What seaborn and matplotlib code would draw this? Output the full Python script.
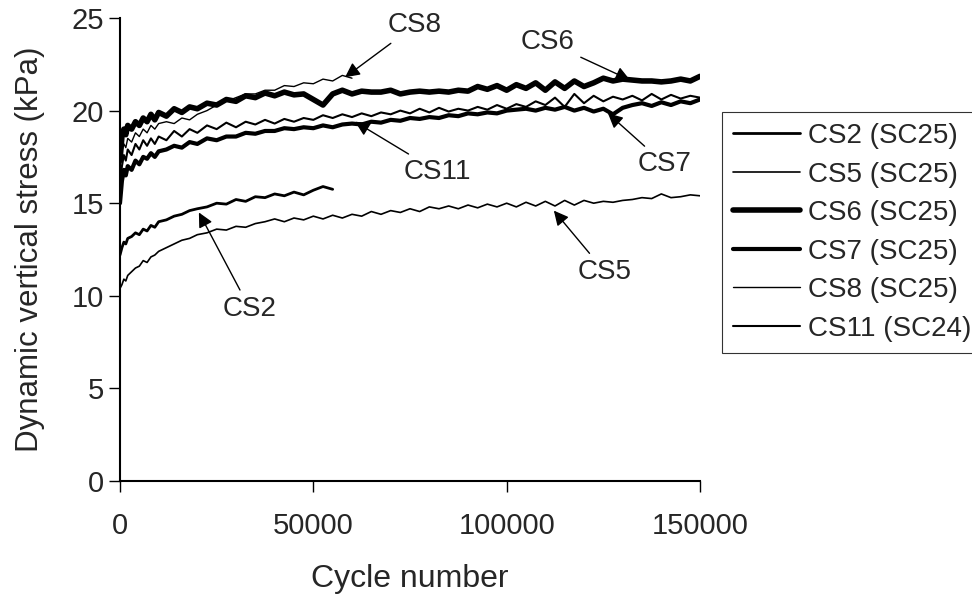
import matplotlib
matplotlib.use('Agg')
import matplotlib.pyplot as plt
import seaborn as sns

cycles = [0, 500, 1000, 1500, 2000, 3000, 4000, 5000, 6000, 7000, 8000, 9000, 10000,
          12000, 14000, 16000, 18000, 20000,
          22500, 25000, 27500, 30000, 32500, 35000, 37500, 40000, 42500, 45000, 47500,
          50000, 52500, 55000, 57500, 60000, 62500, 65000, 67500, 70000, 72500, 75000,
          77500, 80000, 82500, 85000, 87500, 90000, 92500, 95000, 97500, 100000,
          102500, 105000, 107500, 110000, 112500, 115000, 117500, 120000, 122500,
          125000, 127500, 130000, 132500, 135000, 137500, 140000, 142500, 145000,
          147500, 150000]

cs2 = [12.2, 12.6, 12.9, 12.8, 13.1, 13.2, 13.4, 13.3, 13.6, 13.5, 13.8, 13.7, 14.0,
       14.1, 14.3, 14.4, 14.6, 14.7,
       14.8, 15.0, 14.95, 15.2, 15.1, 15.35, 15.3, 15.5, 15.4, 15.6, 15.45, 15.7, 15.9, 15.75]

cs5 = [10.4, 10.6, 10.9, 10.8, 11.1, 11.3, 11.5, 11.6, 11.9, 11.8, 12.1, 12.2, 12.4,
       12.6, 12.8, 13.0, 13.1, 13.3,
       13.4, 13.6, 13.55, 13.75, 13.7, 13.9, 14.0, 14.15, 14.0, 14.2, 14.1, 14.3, 14.15,
       14.35, 14.2, 14.4, 14.3, 14.55, 14.4, 14.6, 14.5, 14.7, 14.55, 14.8, 14.7, 14.85,
       14.7, 14.9, 14.75, 14.95, 14.8, 15.0, 14.8, 15.05, 14.85, 15.1, 14.85, 15.15, 14.9,
       15.15, 15.0, 15.1, 15.05, 15.15, 15.2, 15.3, 15.25, 15.5, 15.3, 15.35, 15.45, 15.4]

cs6 = [17.3, 18.6, 19.0, 18.7, 19.2, 19.0, 19.4, 19.2, 19.6, 19.4, 19.8, 19.5, 19.9,
       19.7, 20.1, 19.9, 20.2, 20.1,
       20.4, 20.3, 20.6, 20.5, 20.8, 20.7, 20.95, 20.8, 21.0, 20.85, 20.9, 20.6, 20.3,
       20.9, 21.1, 20.9, 21.05, 21.0, 21.0, 21.1, 20.9, 21.0, 21.05, 21.0, 21.05, 21.0,
       21.1, 21.05, 21.3, 21.15, 21.35, 21.1, 21.4, 21.2, 21.5, 21.1, 21.55, 21.2, 21.6,
       21.3, 21.5, 21.75, 21.6, 21.7, 21.65, 21.6, 21.6, 21.55, 21.6, 21.7, 21.6, 21.85]

cs7 = [15.0, 16.2, 16.8, 16.5, 17.0, 16.8, 17.3, 17.1, 17.5, 17.4, 17.7, 17.5, 17.8,
       17.9, 18.1, 18.0, 18.3, 18.2,
       18.5, 18.4, 18.6, 18.6, 18.8, 18.75, 18.9, 18.9, 19.05, 19.0, 19.1, 19.05, 19.2,
       19.1, 19.25, 19.3, 19.25, 19.4, 19.35, 19.5, 19.45, 19.6, 19.55, 19.65, 19.6, 19.75,
       19.7, 19.85, 19.8, 19.9, 19.85, 20.0, 20.05, 20.1, 20.0, 20.15, 20.05, 20.2, 20.0,
       20.15, 19.95, 20.1, 19.8, 20.15, 20.3, 20.4, 20.25, 20.45, 20.3, 20.5, 20.4, 20.6]

cs8 = [16.8, 17.8, 18.2, 18.0, 18.5, 18.3, 18.8, 18.6, 19.0, 18.8, 19.2, 19.0, 19.3,
       19.4, 19.3, 19.6, 19.5, 19.8,
       20.0, 20.3, 20.5, 20.7, 20.9, 20.9, 21.1, 21.1, 21.35, 21.3, 21.5, 21.45, 21.7,
       21.6, 21.9, 21.75]

cs11 = [16.0, 17.0, 17.6, 17.3, 17.9, 17.6, 18.2, 17.9, 18.4, 18.1, 18.5, 18.2, 18.6,
        18.4, 18.9, 18.6, 19.0, 18.8,
        19.2, 19.0, 19.35, 19.1, 19.4, 19.25, 19.5, 19.3, 19.55, 19.4, 19.6, 19.5, 19.75,
        19.6, 19.8, 19.65, 19.85, 19.7, 19.9, 19.8, 20.0, 19.85, 20.1, 19.9, 20.15, 19.95,
        20.1, 20.0, 20.2, 20.05, 20.3, 20.1, 20.35, 20.2, 20.5, 20.3, 20.7, 20.2, 20.9,
        20.4, 20.8, 20.5, 20.75, 20.6, 20.8, 20.55, 20.9, 20.6, 20.85, 20.65, 20.8, 20.7]

series = [('CS2 (SC25)', cs2, 2.0), ('CS5 (SC25)', cs5, 1.2), ('CS6 (SC25)', cs6, 4.0),
          ('CS7 (SC25)', cs7, 3.0), ('CS8 (SC25)', cs8, 1.0), ('CS11 (SC24)', cs11, 1.5)]

# label text, arrow tip (on the curve), text centre
notes = [('CS8', (58200, 21.8), (76300, 24.6)),
         ('CS6', (131900, 21.65), (110700, 23.7)),
         ('CS7', (126200, 19.85), (140900, 17.1)),
         ('CS11', (60800, 19.4), (82200, 16.7)),
         ('CS2', (20400, 14.5), (33600, 9.3)),
         ('CS5', (112200, 14.6), (125400, 11.3))]

x_ticks = [0, 50000, 100000, 150000]
y_ticks = [0, 5, 10, 15, 20, 25]

sns.set_style('ticks')
plt.rcParams['font.family'] = ['Liberation Sans', 'DejaVu Sans']

fig = plt.figure(figsize=(9.72, 6.01), dpi=100)
ax = fig.add_axes([120 / 972, 1 - 481 / 601, 580 / 972, 463 / 601])

for name, vals, lw in series:
    sns.lineplot(x=cycles[:len(vals)], y=vals, ax=ax, color='black', lw=lw,
                 label=name, sort=False, estimator=None)

for txt, tip, pos in notes:
    ax.annotate(txt, xy=tip, xytext=pos, fontsize=20, ha='center', va='center',
                arrowprops=dict(arrowstyle='-|>', color='black', lw=1, mutation_scale=22,
                                shrinkA=2, shrinkB=0))

ax.set_xlim(0, 150000)
ax.set_ylim(0, 25)
ax.set_xticks(x_ticks)
ax.set_xticklabels([str(t) for t in x_ticks])
ax.set_yticks(y_ticks)
ax.set_yticklabels([str(t) for t in y_ticks])
ax.tick_params(labelsize=21, length=8, width=1, color='black', direction='out')
ax.tick_params(axis='x', pad=14)
ax.set_xlabel('Cycle number', fontsize=23)
ax.set_ylabel('Dynamic vertical stress (kPa)', fontsize=22.5)
ax.xaxis.set_label_coords(0.5, -0.18)
ax.yaxis.set_label_coords(-0.13, 0.5)
for s in ['left', 'bottom']:
    ax.spines[s].set_linewidth(1.5)
    ax.spines[s].set_color('black')
sns.despine(ax=ax)

leg = ax.legend(loc='upper left', bbox_to_anchor=(722 / 972, 1 - 112 / 601),
                bbox_transform=fig.transFigure, fontsize=20, frameon=True,
                fancybox=False, edgecolor='black', labelspacing=0.45,
                handlelength=2.4, handletextpad=0.3, borderpad=0.4, borderaxespad=0)
leg.get_frame().set_linewidth(0.8)

fig.savefig('out.png', dpi=100)
